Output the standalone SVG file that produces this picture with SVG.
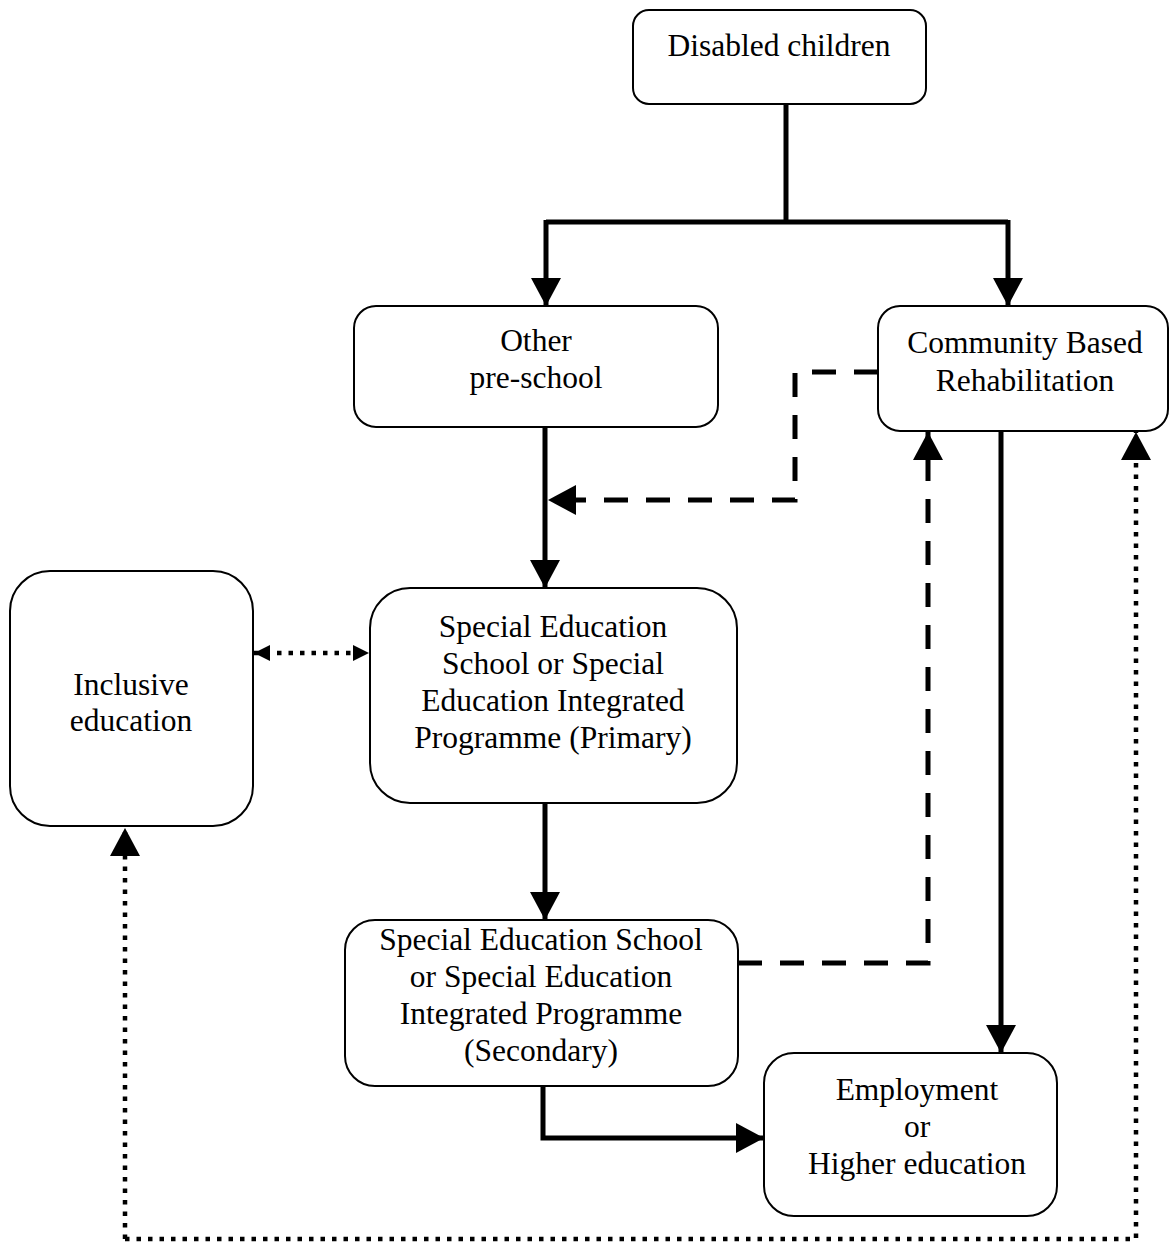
<svg xmlns="http://www.w3.org/2000/svg" width="1169" height="1242" viewBox="0 0 1169 1242">
<defs>
<style>
.box{fill:#fff;stroke:#000;stroke-width:2}
.t{font-family:"Liberation Serif","Times New Roman",serif;font-size:31.5px;text-anchor:middle;fill:#000}
.solid{fill:none;stroke:#000;stroke-width:5}
.dash{fill:none;stroke:#000;stroke-width:5;stroke-dasharray:24 18}
.dot{fill:none;stroke:#000;stroke-width:4.5;stroke-dasharray:4.5 7}
</style>
<marker id="ah" viewBox="0 0 28 30" refX="28" refY="15" markerWidth="28" markerHeight="30" markerUnits="userSpaceOnUse" orient="auto">
<path d="M0,0 L28,15 L0,30 Z" fill="#000"/>
</marker>
<marker id="as" viewBox="0 0 16 16" refX="16" refY="8" markerWidth="16" markerHeight="16" markerUnits="userSpaceOnUse" orient="auto-start-reverse">
<path d="M0,0 L16,8 L0,16 Z" fill="#000"/>
</marker>
</defs>
<rect width="1169" height="1242" fill="#fff"/>
<g id="connectors">
<path class="solid" d="M786,104 V222"/>
<path class="solid" d="M546,222 H1008"/>
<path class="solid" d="M546,220 V306" marker-end="url(#ah)"/>
<path class="solid" d="M1008,220 V306" marker-end="url(#ah)"/>
<path class="solid" d="M545,427 V588" marker-end="url(#ah)"/>
<path class="dash" d="M878,372 H795 V500 H548" marker-end="url(#ah)"/>
<path class="solid" d="M545,803 V920" marker-end="url(#ah)"/>
<path class="dash" d="M738,963 H928 V432" marker-end="url(#ah)"/>
<path class="solid" d="M1001,431 V1053" marker-end="url(#ah)"/>
<path class="solid" d="M543,1086 V1138 H764" marker-end="url(#ah)"/>
<path class="dot" d="M254,653 H369" marker-start="url(#as)" marker-end="url(#as)"/>
<path class="dot" d="M125,1239 V828" marker-end="url(#ah)"/>
<path class="dot" d="M125,1239 H1136 V432" marker-end="url(#ah)"/>
</g>
<g id="disabled-children">
<rect class="box" x="633" y="10" width="293" height="94" rx="16"/>
<text class="t" x="779" y="56">Disabled children</text>
</g>
<g id="other-preschool">
<rect class="box" x="354" y="306" width="364" height="121" rx="22"/>
<text class="t" x="536" y="351">Other</text>
<text class="t" x="536" y="388">pre-school</text>
</g>
<g id="cbr">
<rect class="box" x="878" y="306" width="290" height="125" rx="22"/>
<text class="t" x="1025" y="353">Community Based</text>
<text class="t" x="1025" y="391">Rehabilitation</text>
</g>
<g id="inclusive">
<rect class="box" x="10" y="571" width="243" height="255" rx="40"/>
<text class="t" x="131" y="695">Inclusive</text>
<text class="t" x="131" y="731">education</text>
</g>
<g id="primary">
<rect class="box" x="370" y="588" width="367" height="215" rx="40"/>
<text class="t" x="553" y="637">Special Education</text>
<text class="t" x="553" y="674">School or Special</text>
<text class="t" x="553" y="711">Education Integrated</text>
<text class="t" x="553" y="748">Programme (Primary)</text>
</g>
<g id="secondary">
<rect class="box" x="345" y="920" width="393" height="166" rx="30"/>
<text class="t" x="541" y="950">Special Education School</text>
<text class="t" x="541" y="987">or Special Education</text>
<text class="t" x="541" y="1024">Integrated Programme</text>
<text class="t" x="541" y="1061">(Secondary)</text>
</g>
<g id="employment">
<rect class="box" x="764" y="1053" width="293" height="163" rx="30"/>
<text class="t" x="917" y="1100">Employment</text>
<text class="t" x="917" y="1137">or</text>
<text class="t" x="917" y="1174">Higher education</text>
</g>
</svg>
